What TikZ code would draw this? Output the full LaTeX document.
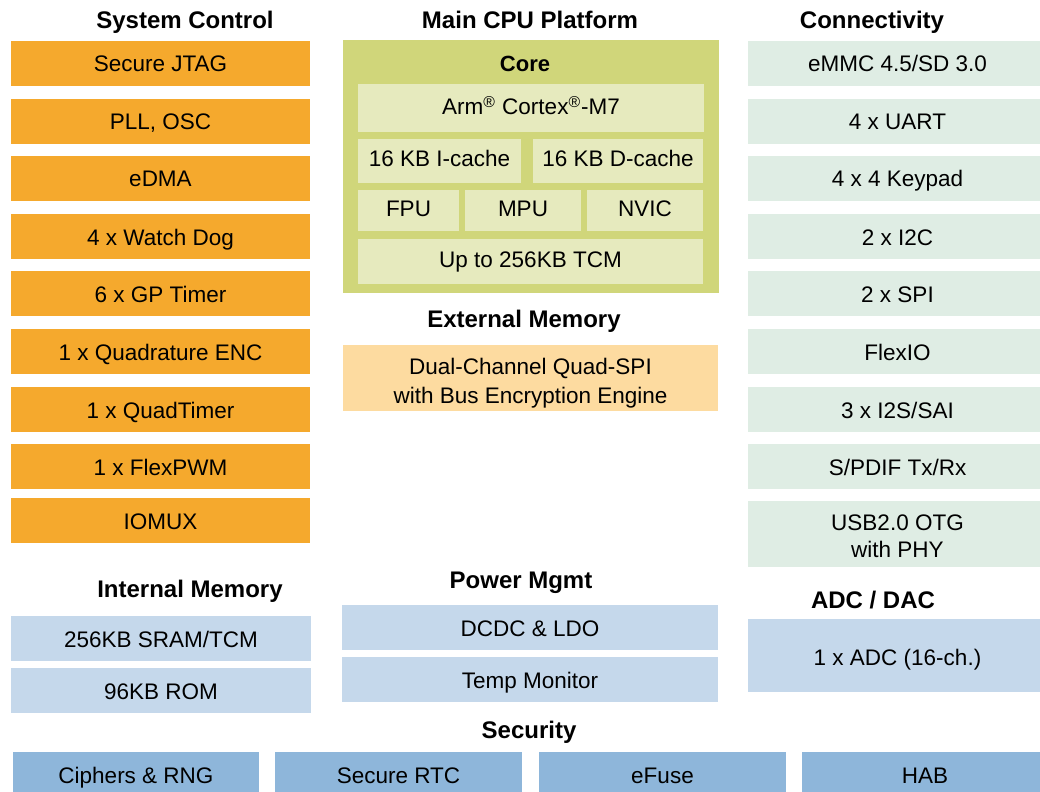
\documentclass[tikz,border=0pt]{standalone}
\usepackage{fontspec}
\setmainfont{Liberation Sans}
\usepackage{tikz}
\usetikzlibrary{positioning}

\definecolor{sysorange}{HTML}{F5A92D}
\definecolor{conngreen}{HTML}{DFEDE4}
\definecolor{lightblue}{HTML}{C5D8EB}
\definecolor{secblue}{HTML}{8EB6DA}
\definecolor{coregreen}{HTML}{D0D67A}
\definecolor{innergreen}{HTML}{E6EABE}
\definecolor{extorange}{HTML}{FDDBA0}

\begin{document}
\begin{tikzpicture}[x=0.5pt,y=-0.5pt,
  title/.style={font=\fontsize{12}{14}\selectfont\bfseries, anchor=base},
  blk/.style={inner sep=0pt, font=\fontsize{11.25}{13.5}\selectfont, text height=8.5pt, text depth=0pt},
  twoline/.style={inner sep=0pt, align=center, font=\fontsize{11.25}{#1}\selectfont},
  sysbox/.style={blk, fill=sysorange, minimum width=149.5pt, minimum height=22.5pt},
  connbox/.style={blk, fill=conngreen, minimum width=149.5pt, minimum height=22.5pt},
  corebox/.style={blk, fill=innergreen},
  membox/.style={blk, fill=lightblue},
  secbox/.style={blk, fill=secblue, minimum height=22.5pt, minimum width=123.5pt}]

\useasboundingbox (0,0) rectangle (1040,792);

% system control
\node[title] (sysT) at (185,28.5) {System Control};
\node[sysbox] (jtag) at (160.5,63.5) {Secure JTAG};
\node[sysbox] (pll)  at (160.5,121.5) {PLL, OSC};
\node[sysbox] (edma) at (160.5,178.5) {eDMA};
\node[sysbox] (wdog) at (160.5,236.5) {4 x Watch Dog};
\node[sysbox] (gpt)  at (160.5,293.5) {6 x GP Timer};
\node[sysbox] (enc)  at (160.5,351.5) {1 x Quadrature ENC};
\node[sysbox] (qtmr) at (160.5,409.5) {1 x QuadTimer};
\node[sysbox] (pwm)  at (160.5,466.5) {1 x FlexPWM};
\node[sysbox] (iomux) at (160.5,520.5) {IOMUX};

% main cpu platform
\node[title] (cpuT) at (530,28.5) {Main CPU Platform};
\node[fill=coregreen, inner sep=0pt, minimum width=188pt, minimum height=126.5pt] (core) at (531,166.5) {};
\node[font=\fontsize{11}{13}\selectfont\bfseries, anchor=base] (coreT) at (525,72) {Core};
\node[corebox, text height=7pt, minimum width=173pt, minimum height=24pt] (arm) at (531,108)
  {Arm\textsuperscript{®} Cortex\textsuperscript{®}-M7};
\node[corebox, text height=5.8pt, minimum width=81.5pt, minimum height=22pt] (icache) at (439.5,161) {16 KB I-cache};
\node[corebox, text height=5.8pt, minimum width=85pt, minimum height=22pt] (dcache) at (618,161) {16 KB D-cache};
\node[corebox, text height=6.2pt, minimum width=50.5pt, minimum height=20.5pt] (fpu) at (408.5,210.5) {FPU};
\node[corebox, text height=6.2pt, minimum width=58pt, minimum height=20.5pt] (mpu) at (523,210.5) {MPU};
\node[corebox, text height=6.2pt, minimum width=58pt, minimum height=20.5pt] (nvic) at (645,210.5) {NVIC};
\node[corebox, text height=5.6pt, minimum width=172.5pt, minimum height=22.5pt] (tcm) at (530.5,261.5) {Up to 256KB TCM};

% external memory
\node[title] (extT) at (524,327.5) {External Memory};
\node[fill=extorange, inner sep=0pt, minimum width=187.5pt, minimum height=33pt] (qspi) at (530.5,378) {};
\node[twoline=14.5pt] (qspiT) at (530.5,383) {Dual-Channel Quad-SPI\\with Bus Encryption Engine};

% connectivity
\node[title] (connT) at (872,28.5) {Connectivity};
\node[connbox] (emmc) at (897.5,63.5) {eMMC 4.5/SD 3.0};
\node[connbox] (uart) at (897.5,121.5) {4 x UART};
\node[connbox] (kpp)  at (897.5,178.5) {4 x 4 Keypad};
\node[connbox] (i2c)  at (897.5,236.5) {2 x I2C};
\node[connbox] (spi)  at (897.5,293.5) {2 x SPI};
\node[connbox] (flexio) at (897.5,351.5) {FlexIO};
\node[connbox] (sai)  at (897.5,409.5) {3 x I2S/SAI};
\node[connbox] (spdif) at (897.5,466.5) {S/PDIF Tx/Rx};
\node[fill=conngreen, inner sep=0pt, minimum width=149.5pt, minimum height=33pt] (usb) at (897.5,534) {};
\node[twoline=13.35pt] (usbT) at (897.5,536) {USB2.0 OTG\\with PHY};

% internal memory
\node[title] (imemT) at (190,597.5) {Internal Memory};
\node[membox, minimum width=150pt, minimum height=22.5pt] (sram) at (161,638.5) {256KB SRAM/TCM};
\node[membox, minimum width=150pt, minimum height=22.5pt] (rom) at (161,690.5) {96KB ROM};

% power
\node[title] (pwrT) at (521,588.5) {Power Mgmt};
\node[membox, minimum width=188pt, minimum height=22.5pt] (dcdc) at (530,627.5) {DCDC \& LDO};
\node[membox, minimum width=188pt, minimum height=22.5pt] (temp) at (530,679.5) {Temp Monitor};

% adc
\node[title] (adcT) at (873,608.5) {ADC / DAC};
\node[membox, text height=9.5pt, minimum width=149.5pt, minimum height=36.5pt] (adc) at (897.5,655.5) {1 x ADC (16-ch.)};

% security
\node[title] (secT) at (529,738.5) {Security};
\node[secbox, minimum width=123pt] (rng) at (136,774.5) {Ciphers \& RNG};
\node[secbox] (rtc) at (398.5,774.5) {Secure RTC};
\node[secbox] (efuse) at (662.5,774.5) {eFuse};
\node[secbox, minimum width=123pt] (hab) at (925,774.5) {HAB};

\end{tikzpicture}
\end{document}
